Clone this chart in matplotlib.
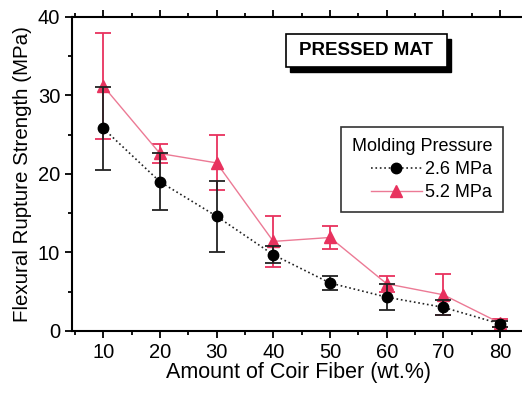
import matplotlib.pyplot as plt
from matplotlib.ticker import MultipleLocator
from matplotlib.patches import Rectangle
from matplotlib.lines import Line2D

plt.rcParams['font.family'] = ['Liberation Sans', 'DejaVu Sans']

# DATA
fiber = [10, 20, 30, 40, 50, 60, 70, 80]
low_p = [25.8, 19.0, 14.6, 9.7, 6.1, 4.3, 3.0, 0.9]
low_err = [5.3, 3.6, 4.5, 1.1, 0.9, 1.7, 1.0, 0.4]
high_p = [31.2, 22.6, 21.4, 11.4, 11.9, 6.0, 4.6, 1.0]
high_err = [6.8, 1.2, 3.5, 3.2, 1.5, 1.0, 2.6, 0.5]

red = '#e8325e'
pink = '#ec7a95'

fig = plt.figure(figsize=(5.22, 3.93), dpi=100)
ax = fig.add_axes([0.138, 0.158, 0.869, 0.799])

ax.errorbar(fiber, low_p, yerr=low_err, color='#222222', ls=':', lw=1.2,
            marker='o', ms=7.5, mfc='black', mec='black', ecolor='#222222',
            elinewidth=1.3, capsize=6, capthick=1.3, zorder=3)
ax.errorbar(fiber, high_p, yerr=high_err, color=pink, ls='-', lw=1.0,
            marker='^', ms=8.5, mfc=red, mec=red, ecolor=red,
            elinewidth=1.3, capsize=6, capthick=1.3, zorder=2)

ax.set_xlim(4.5, 84.5)
ax.set_ylim(0, 40)
ax.xaxis.set_major_locator(MultipleLocator(10))
ax.xaxis.set_minor_locator(MultipleLocator(5))
ax.yaxis.set_major_locator(MultipleLocator(10))
ax.yaxis.set_minor_locator(MultipleLocator(5))
ax.tick_params(which='both', top=True, right=True, width=1.3)
ax.tick_params(which='major', length=5, labelsize=14.5)
ax.tick_params(which='minor', length=3)
for s in ax.spines.values():
    s.set_linewidth(1.5)

ax.set_xlabel('Amount of Coir Fiber (wt.%)', fontsize=15.5, labelpad=0.5)
ax.set_ylabel('Flexural Rupture Strength (MPa)', fontsize=14.8, labelpad=4)

# PRESSED MAT label with shadow
ax.add_patch(Rectangle((0.481, 0.824), 0.355, 0.105, transform=ax.transAxes,
                       facecolor='black', edgecolor='black', zorder=4, clip_on=False))
ax.add_patch(Rectangle((0.471, 0.841), 0.355, 0.105, transform=ax.transAxes,
                       facecolor='white', edgecolor='black', lw=1.2, zorder=5, clip_on=False))
ax.text(0.6485, 0.893, 'PRESSED MAT', transform=ax.transAxes, ha='center', va='center',
        fontsize=13.5, fontweight='bold', zorder=6)

handles = [
    Line2D([], [], color='#222222', ls=':', lw=1.2, marker='o', ms=7.5,
           mfc='black', mec='black'),
    Line2D([], [], color=pink, ls='-', lw=1.0, marker='^', ms=8.5,
           mfc=red, mec=red),
]
leg = ax.legend(handles, ['2.6 MPa', '5.2 MPa'], title='Molding Pressure',
                loc='upper left', bbox_to_anchor=(0.593, 0.65),
                fontsize=13, title_fontsize=13, frameon=True, fancybox=False,
                edgecolor='black', handlelength=2.8, handletextpad=0.2,
                borderpad=0.6, labelspacing=0.35, borderaxespad=0)
leg.get_frame().set_linewidth(1.2)
leg._legend_box.align = 'right'

fig.savefig('out.png', dpi=100)
